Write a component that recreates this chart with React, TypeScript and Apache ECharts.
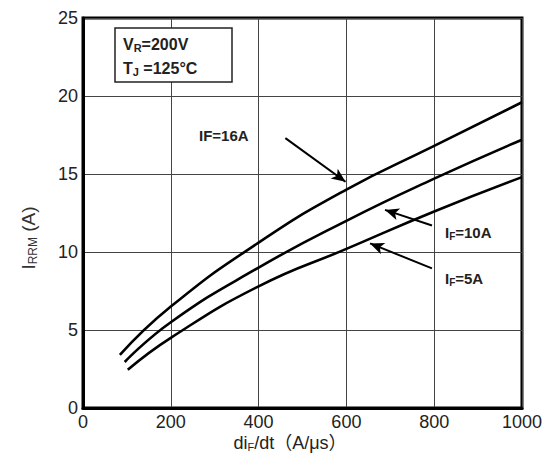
import React, { useEffect, useRef } from "react";
import * as echarts from "echarts";

const xMin = 0;
const xMax = 1000;
const xInterval = 200;
const yMin = 0;
const yMax = 25;
const yInterval = 5;

const curveNames = ["IF=16A", "IF=10A", "IF=5A"];
const curve16: number[][] = [[84, 3.4], [200, 6.5], [400, 10.6], [600, 14.0], [800, 16.8], [1000, 19.6]];
const curve10: number[][] = [[95, 2.95], [200, 5.5], [400, 9.0], [600, 12.0], [800, 14.7], [1000, 17.2]];
const curve5: number[][] = [[102, 2.45], [200, 4.5], [400, 7.8], [600, 10.2], [800, 12.6], [1000, 14.8]];

// arrow annotations (data coordinates): [start, end]
const arrow16 = [[461, 17.3], [598, 14.5]];
const arrow10 = [[795, 11.7], [688, 12.7]];
const arrow5 = [[795, 8.95], [654, 10.55]];

const FONT = "'Liberation Sans', Arial, 'Noto Sans CJK SC', sans-serif";

export default function App() {
  const ref = useRef<HTMLDivElement>(null);
  useEffect(() => {
    if (!ref.current) return;
    const chart = echarts.init(ref.current, undefined, { renderer: "svg" });
    const datasets = [curve16, curve10, curve5];
    const arrows = [arrow16, arrow10, arrow5];
    const series: any[] = datasets.map((d, i) => ({
      name: curveNames[i],
      type: "line",
      data: d,
      smooth: 0.5,
      showSymbol: false,
      symbol: "none",
      lineStyle: { color: "#000", width: 2.6 },
      z: 5,
      markLine: {
        silent: true,
        symbol: ["none", "arrow"],
        symbolSize: [9, 14],
        lineStyle: { color: "#000", width: 2, type: "solid" },
        itemStyle: { color: "#000" },
        label: { show: false },
        data: [[{ coord: arrows[i][0] }, { coord: arrows[i][1] }]],
      },
    }));
    chart.setOption({
      animation: false,
      backgroundColor: "#fff",
      grid: {
        left: 83,
        right: 22,
        top: 18,
        bottom: 51,
        show: true,
        borderColor: "#000",
        borderWidth: 3,
        backgroundColor: "transparent",
      },
      xAxis: {
        type: "value",
        min: xMin,
        max: xMax,
        interval: xInterval,
        axisLine: { show: true, lineStyle: { color: "#000", width: 3 } },
        axisTick: { show: false },
        splitLine: { show: true, lineStyle: { color: "#444", width: 1 } },
        axisLabel: { color: "#222", fontSize: 18, fontFamily: FONT, margin: 5, formatter: (v: number) => String(v) },
      },
      yAxis: {
        type: "value",
        min: yMin,
        max: yMax,
        interval: yInterval,
        axisLine: { show: true, lineStyle: { color: "#000", width: 3 } },
        axisTick: { show: false },
        splitLine: { show: true, lineStyle: { color: "#444", width: 1 } },
        axisLabel: { color: "#222", fontSize: 18, fontFamily: FONT, margin: 5 },
      },
      series,
      graphic: [
        {
          type: "rect",
          shape: { x: 115, y: 28, width: 117, height: 54 },
          style: { fill: "#fff", stroke: "#222", lineWidth: 1.5 },
          z: 10,
        },
        {
          type: "text",
          x: 123,
          y: 44,
          z: 11,
          style: {
            text: "{b|V}{s|R}{b|=200V}",
            verticalAlign: "middle",
            rich: {
              b: { fontSize: 16, fontWeight: "bold", fontFamily: FONT, fill: "#222" },
              s: { fontSize: 11, fontWeight: "bold", fontFamily: FONT, fill: "#222", verticalAlign: "bottom", padding: [8, 0, 0, 0] },
            },
          },
        },
        {
          type: "text",
          x: 123,
          y: 68,
          z: 11,
          style: {
            text: "{b|T}{s|J}{b| =125°C}",
            verticalAlign: "middle",
            rich: {
              b: { fontSize: 16, fontWeight: "bold", fontFamily: FONT, fill: "#222" },
              s: { fontSize: 11, fontWeight: "bold", fontFamily: FONT, fill: "#222", verticalAlign: "bottom", padding: [8, 0, 0, 0] },
            },
          },
        },
        {
          type: "text",
          x: 199,
          y: 135,
          z: 11,
          style: {
            text: "IF=16A",
            font: "bold 15px " + FONT,
            fill: "#222",
            verticalAlign: "middle",
          },
        },
        {
          type: "text",
          x: 445,
          y: 232,
          z: 11,
          style: {
            text: "{b|I}{s|F}{b|=10A}",
            verticalAlign: "middle",
            rich: {
              b: { fontSize: 15, fontWeight: "bold", fontFamily: FONT, fill: "#222" },
              s: { fontSize: 10, fontWeight: "bold", fontFamily: FONT, fill: "#222", verticalAlign: "bottom", padding: [8, 0, 0, 0] },
            },
          },
        },
        {
          type: "text",
          x: 445,
          y: 278,
          z: 11,
          style: {
            text: "{b|I}{s|F}{b|=5A}",
            verticalAlign: "middle",
            rich: {
              b: { fontSize: 15, fontWeight: "bold", fontFamily: FONT, fill: "#222" },
              s: { fontSize: 10, fontWeight: "bold", fontFamily: FONT, fill: "#222", verticalAlign: "bottom", padding: [8, 0, 0, 0] },
            },
          },
        },
        {
          type: "text",
          x: 28,
          y: 238,
          rotation: Math.PI / 2,
          z: 11,
          style: {
            text: "{b|I}{s|RRM}{b| (A)}",
            align: "center",
            verticalAlign: "middle",
            rich: {
              b: { fontSize: 19, fontFamily: FONT, fill: "#333" },
              s: { fontSize: 12, fontFamily: FONT, fill: "#333", verticalAlign: "bottom", padding: [9, 0, 0, 0] },
            },
          },
        },
        {
          type: "text",
          x: 290,
          y: 443,
          z: 11,
          style: {
            text: "{b|di}{s|F}{b|/dt（A/μs）}",
            align: "center",
            verticalAlign: "middle",
            rich: {
              b: { fontSize: 18, fontFamily: FONT, fill: "#222" },
              s: { fontSize: 11, fontFamily: FONT, fill: "#222", verticalAlign: "bottom", padding: [8, 0, 0, 0] },
            },
          },
        },
      ],
    });
    return () => chart.dispose();
  }, []);
  return <div ref={ref} style={{ width: 545, height: 459, position: "absolute", left: 0, top: 0 }} />;
}
